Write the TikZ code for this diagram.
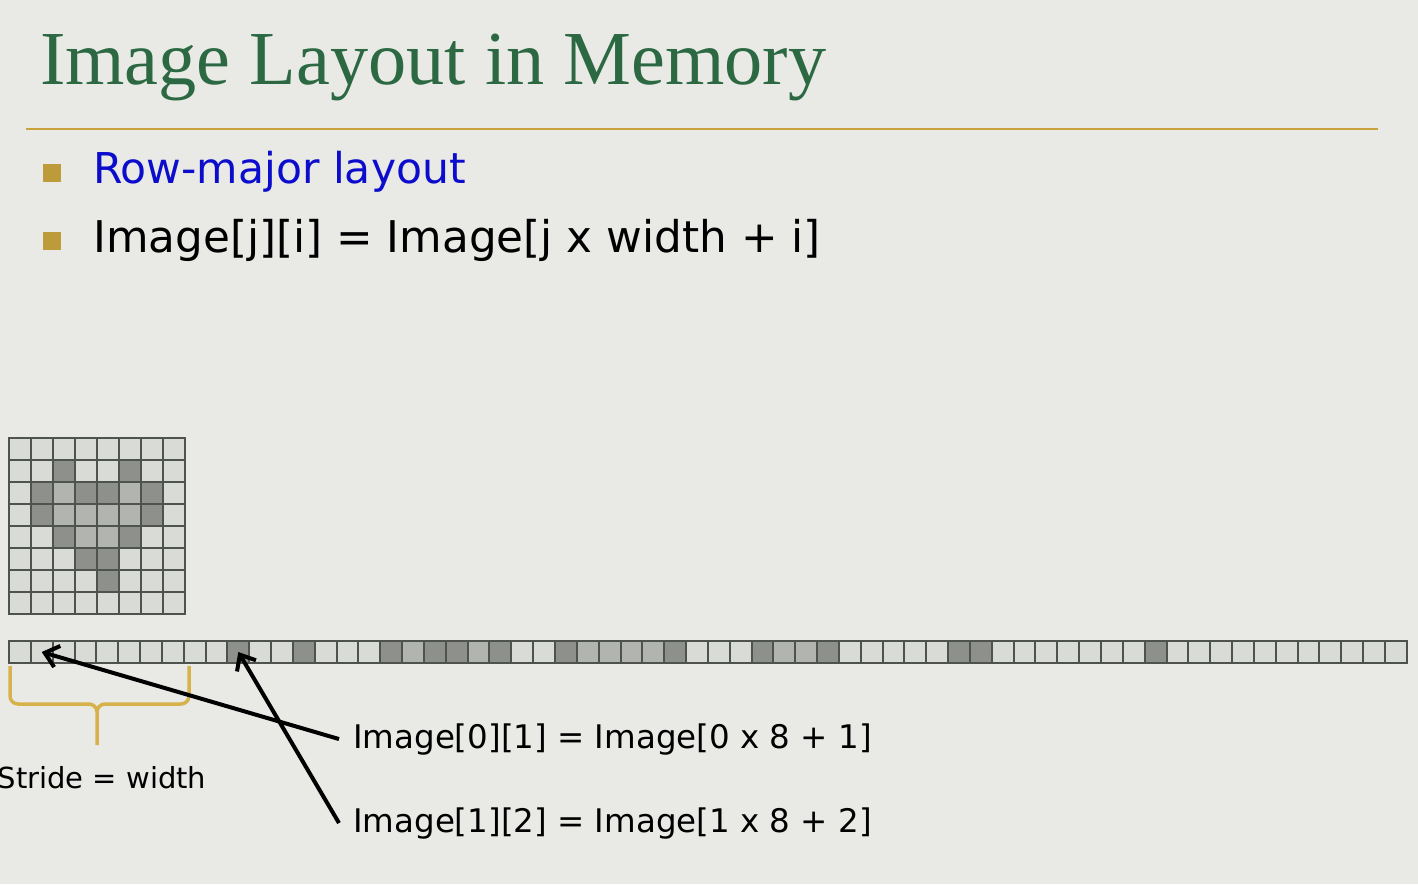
\documentclass[tikz,border=0pt]{standalone}
\usepackage{fontspec}
\setmainfont{DejaVu Sans}
\newfontfamily\titleserif{Liberation Serif}
\usetikzlibrary{arrows.meta}

\definecolor{bgcol}{HTML}{E9EAE6}
\definecolor{titlegreen}{HTML}{2C6943}
\definecolor{rulegold}{HTML}{C9A43E}
\definecolor{bulletgold}{HTML}{BE9B3A}
\definecolor{bracegold}{HTML}{D7B24A}
\definecolor{itemblue}{HTML}{0C0CCC}
\definecolor{shade0}{HTML}{D9DBD6}
\definecolor{shade1}{HTML}{B2B4AF}
\definecolor{shade2}{HTML}{8D908B}
\definecolor{gridline}{HTML}{4E534E}

\tikzset{
  cell/.style={draw=gridline, line width=2pt, inner sep=0pt, outer sep=0pt,
    minimum width=22pt, minimum height=22pt},
  stripcell/.style={cell, minimum width=21.84pt},
  bulletbox/.style={fill=bulletgold, inner sep=0pt, minimum size=18pt},
  itemtext/.style={anchor=base west, inner sep=0pt, font=\fontsize{43.7}{50}\selectfont},
  labeltext/.style={anchor=base west, inner xsep=14pt, inner ysep=0pt,
    font=\fontsize{32.5}{38}\selectfont},
  pointer/.style={line width=4pt, -{Straight Barb[length=13pt,width=22pt]}},
}

\begin{document}
\begin{tikzpicture}[x=1pt, y=-1pt]
  \useasboundingbox (0,0) rectangle (1418,884);
  \fill[bgcol] (0,0) rectangle (1418,884);

  % heading and rule
  \node[anchor=base west, inner sep=0pt, text=titlegreen,
        font=\titleserif\fontsize{76.3}{80}\selectfont] (title) at (40,84) {Image Layout in Memory};
  \draw[rulegold, line width=2.5pt] (26,129) -- (1378,129);

  % bullet items
  \node[bulletbox] (b1) at (52,173) {};
  \node[itemtext, text=itemblue, font=\fontsize{42.5}{50}\selectfont] (item1) at (93,183) {Row-major layout};
  \node[bulletbox] (b2) at (52,241) {};
  \node[itemtext] (item2) at (93,252) {Image[j][i] = Image[j x width + i]};

  % 8x8 image and its row-major copy in memory
  \foreach \rowvals [count=\r from 0] in {
      {0,0,0,0,0,0,0,0},
      {0,0,2,0,0,2,0,0},
      {0,2,1,2,2,1,2,0},
      {0,2,1,1,1,1,2,0},
      {0,0,2,1,1,2,0,0},
      {0,0,0,2,2,0,0,0},
      {0,0,0,0,2,0,0,0},
      {0,0,0,0,0,0,0,0}} {
    \foreach \v [count=\c from 0] in \rowvals {
      \pgfmathtruncatemacro\idx{\r*8+\c}
      \node[cell, fill=shade\v] (g\r-\c) at ({20+22*\c},{449+22*\r}) {};
      \node[stripcell, fill=shade\v] (s\idx) at ({9+21.84*(\idx+0.5)},652) {};
    }
  }

  % stride brace under the first row
  \draw[bracegold, line width=3.5pt, line join=round]
    (10,666) -- (10,696) arc[start angle=180, end angle=90, radius=8] -- (89,704)
    arc[start angle=-90, end angle=0, radius=8] -- (97,745);
  \draw[bracegold, line width=3.5pt, line join=round]
    (189,666) -- (189,696) arc[start angle=0, end angle=90, radius=8] -- (105,704)
    arc[start angle=270, end angle=180, radius=8];
  \node[anchor=base, inner sep=0pt, font=\fontsize{29}{34}\selectfont] (stride) at (102,788) {Stride = width};

  % index examples
  \node[labeltext] (l1) at (339,748) {Image[0][1] = Image[0 x 8 + 1]};
  \node[labeltext] (l2) at (339,832) {Image[1][2] = Image[1 x 8 + 2]};
  \draw[pointer] (l1.west) -- (s1.center);
  \draw[pointer] (l2.west) -- (s10.center);
\end{tikzpicture}
\end{document}
